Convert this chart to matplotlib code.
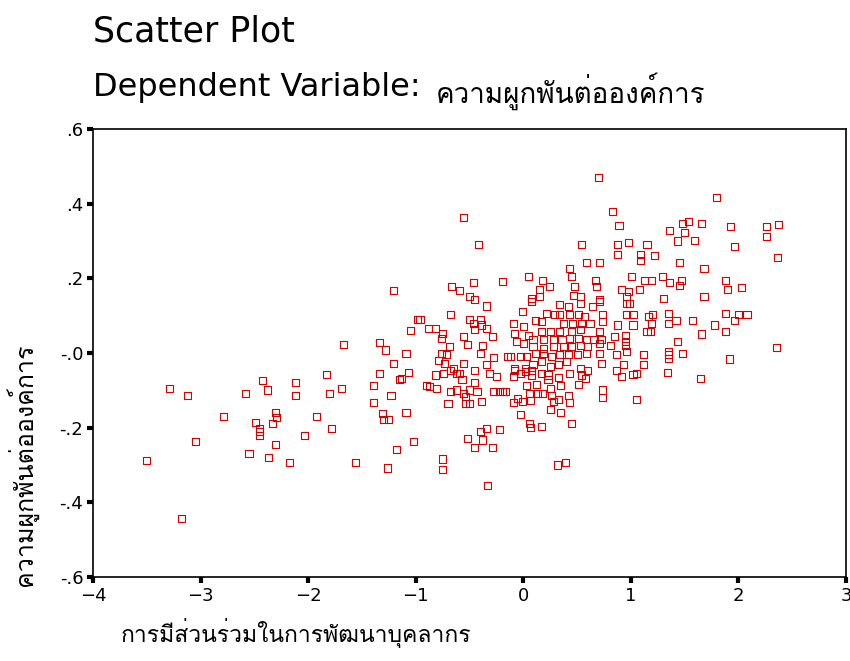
import numpy as np
import matplotlib
matplotlib.use('Agg')
import matplotlib.pyplot as plt
from matplotlib import font_manager
from matplotlib.ft2font import FT2Font

# ค่าที่อ่านจากภาพ (x = การมีส่วนร่วม, y = ความผูกพัน)
points = [
    # กลุ่มซ้าย
    (-3.50, -0.289), (-3.29, -0.094), (-3.12, -0.115), (-3.05, -0.236), (-3.18, -0.443),
    (-2.79, -0.171), (-2.58, -0.109), (-2.42, -0.073), (-2.38, -0.099), (-2.49, -0.187),
    (-2.45, -0.202), (-2.45, -0.211), (-2.45, -0.220), (-2.30, -0.159), (-2.29, -0.173),
    (-2.33, -0.188), (-2.55, -0.268), (-2.37, -0.280), (-2.30, -0.244), (-2.17, -0.293),
    (-2.12, -0.078), (-2.12, -0.115), (-2.03, -0.220), (-1.92, -0.171), (-1.83, -0.057),
    (-1.80, -0.109), (-1.78, -0.202), (-1.69, -0.094), (-1.67, 0.023),
    # กลาง-ซ้าย บน
    (-0.56, 0.364), (-0.42, 0.291), (-1.21, 0.168), (-0.67, 0.177), (-0.59, 0.168),
    (-0.46, 0.189), (-0.19, 0.192), (-0.50, 0.152), (-0.45, 0.143), (-0.34, 0.126),
    (-0.68, 0.104), (-0.98, 0.090), (-0.96, 0.090), (-1.05, 0.060), (-0.88, 0.066),
    (-0.82, 0.066), (-1.34, 0.029), (-1.28, 0.008), (-1.09, -0.001), (-1.21, -0.028),
    (-0.50, 0.090), (-0.40, 0.090), (-0.46, 0.078), (-0.39, 0.075), (-0.34, 0.066),
    (-0.29, 0.045), (-0.45, 0.062), (-0.75, 0.053), (-0.76, 0.039), (-0.56, 0.044),
    (-0.52, 0.024), (-0.38, 0.019), (-0.40, -0.002), (-0.28, -0.012), (-0.69, 0.017),
    (-0.76, -0.001), (-0.71, -0.003), (-0.79, -0.021), (-0.73, -0.028), (-0.56, -0.028),
    (-0.34, -0.032), (-0.15, -0.010),
    # กลาง-ซ้าย ล่าง
    (-1.34, -0.054), (-1.07, -0.053), (-1.13, -0.068), (-1.15, -0.072), (-1.39, -0.088),
    (-1.23, -0.114), (-1.39, -0.133), (-1.09, -0.160), (-1.31, -0.163), (-1.30, -0.177),
    (-1.25, -0.177), (-1.02, -0.237), (-1.18, -0.258), (-1.56, -0.293), (-1.26, -0.308),
    (-0.75, -0.284), (-0.75, -0.313), (-0.33, -0.356), (-0.52, -0.228), (-0.40, -0.210),
    (-0.34, -0.202), (-0.22, -0.205), (-0.38, -0.233), (-0.45, -0.254), (-0.29, -0.254),
    (-0.87, -0.090), (-0.90, -0.087), (-0.81, -0.095), (-0.74, -0.054), (-0.82, -0.059),
    (-0.68, -0.046), (-0.62, -0.054), (-0.65, -0.041), (-0.59, -0.054), (-0.57, -0.072),
    (-0.45, -0.046), (-0.31, -0.054), (-0.25, -0.063), (-0.45, -0.080), (-0.50, -0.099),
    (-0.56, -0.108), (-0.62, -0.099), (-0.68, -0.104), (-0.70, -0.135), (-0.54, -0.135),
    (-0.50, -0.135), (-0.39, -0.130), (-0.28, -0.102), (-0.22, -0.102), (-0.17, -0.102),
    (-0.43, -0.104), (-0.54, -0.117),
    # กลาง บน
    (0.70, 0.470), (0.83, 0.379), (0.89, 0.341), (0.54, 0.291), (0.88, 0.291),
    (0.98, 0.297), (1.15, 0.291), (0.88, 0.264), (1.09, 0.264), (1.09, 0.249),
    (0.59, 0.242), (0.71, 0.242), (0.43, 0.227), (0.45, 0.204), (0.05, 0.204),
    (0.18, 0.194), (0.24, 0.178), (0.15, 0.169), (0.15, 0.151), (0.08, 0.147),
    (0.48, 0.178), (0.47, 0.155), (0.53, 0.151), (0.67, 0.194), (0.68, 0.178),
    (1.01, 0.204), (0.91, 0.169), (0.98, 0.164), (0.96, 0.151), (1.08, 0.169),
    (1.13, 0.194), (0.71, 0.144),
    # กลาง หนาแน่น
    (0.08, 0.137), (0.34, 0.129), (0.42, 0.124), (0.53, 0.133), (0.64, 0.124),
    (0.71, 0.137), (0.96, 0.133), (0.99, 0.133), (-0.01, 0.111), (0.22, 0.106),
    (0.29, 0.102), (0.34, 0.102), (0.43, 0.102), (0.51, 0.102), (0.57, 0.097),
    (0.74, 0.102), (0.96, 0.102), (1.02, 0.102), (1.16, 0.097), (-0.09, 0.080),
    (0.11, 0.087), (0.17, 0.084), (0.37, 0.080), (0.46, 0.080), (0.54, 0.080),
    (0.62, 0.080), (0.74, 0.084), (0.88, 0.075), (1.02, 0.075), (0.00, 0.070),
    (0.17, 0.057), (0.25, 0.057), (0.34, 0.057), (0.45, 0.057), (0.53, 0.062),
    (0.71, 0.057), (0.85, 0.044), (0.95, 0.048), (1.15, 0.057), (-0.08, 0.053),
    (0.05, 0.048), (0.09, 0.035), (0.19, 0.035), (0.28, 0.035), (0.36, 0.035),
    (0.43, 0.039), (0.51, 0.039), (0.59, 0.035), (0.65, 0.035), (0.73, 0.035),
    (0.95, 0.030), (-0.06, 0.030), (0.00, 0.026), (0.09, 0.017), (0.19, 0.013),
    (0.28, 0.017), (0.37, 0.017), (0.45, 0.017), (0.53, 0.021), (0.60, 0.017),
    (0.71, 0.026), (0.81, 0.021), (0.95, 0.021), (-0.12, -0.010), (-0.03, -0.010),
    (0.03, -0.010), (0.11, -0.001), (0.19, -0.001), (0.26, -0.010), (0.34, -0.005),
    (0.42, -0.005), (0.50, -0.005), (0.59, -0.001), (0.71, -0.001), (0.87, -0.005),
    (0.96, 0.003), (1.12, -0.005), (-0.08, -0.041), (0.02, -0.041), (0.09, -0.032),
    (0.17, -0.023), (0.25, -0.037), (0.33, -0.032), (0.40, -0.023), (0.53, -0.041),
    (0.60, -0.046), (0.73, -0.028), (0.87, -0.046), (0.93, -0.032), (1.05, -0.054),
    (-0.09, -0.063), (-0.03, -0.054), (0.08, -0.046), (0.17, -0.054), (0.23, -0.059),
    (0.43, -0.054), (0.54, -0.059),
    # กลาง ล่าง
    (0.91, -0.063), (1.02, -0.057), (0.74, -0.099), (0.74, -0.119), (1.05, -0.124),
    (0.51, -0.084), (0.58, -0.068), (0.33, -0.065), (0.35, -0.088), (0.23, -0.072),
    (0.25, -0.095), (0.26, -0.113), (0.28, -0.130), (0.33, -0.124), (0.42, -0.115),
    (0.43, -0.133), (0.03, -0.088), (0.12, -0.084), (0.06, -0.108), (0.13, -0.108),
    (0.18, -0.108), (0.07, -0.126), (-0.01, -0.130), (-0.09, -0.133), (-0.05, -0.121),
    (-0.19, -0.104), (0.25, -0.151), (0.35, -0.160), (-0.03, -0.164), (0.06, -0.190),
    (0.07, -0.199), (0.17, -0.196), (0.45, -0.190), (0.32, -0.300), (0.39, -0.294),
    (-0.08, -0.046), (0.08, -0.059), (0.02, -0.050),
    # ขวา บน
    (1.80, 0.417), (1.54, 0.352), (1.48, 0.346), (1.66, 0.347), (1.50, 0.322),
    (1.36, 0.327), (1.43, 0.300), (1.59, 0.301), (1.93, 0.340), (2.26, 0.340),
    (2.37, 0.345), (2.26, 0.313), (1.96, 0.285), (2.36, 0.255), (1.22, 0.260),
    (1.45, 0.243), (1.68, 0.227), (1.19, 0.194), (1.29, 0.204), (1.36, 0.188),
    (1.45, 0.182), (1.47, 0.194), (1.88, 0.194), (1.90, 0.169), (2.03, 0.175),
    (1.30, 0.147), (1.68, 0.151),
    # ขวา ล่าง
    (1.20, 0.102), (1.19, 0.080), (1.18, 0.057), (1.35, 0.106), (1.35, 0.080),
    (1.42, 0.087), (1.57, 0.087), (1.78, 0.075), (1.88, 0.106), (1.96, 0.087),
    (2.00, 0.102), (2.08, 0.102), (1.88, 0.057), (1.66, 0.051), (1.43, 0.030),
    (1.35, 0.003), (1.35, -0.005), (1.35, -0.014), (1.48, -0.001), (1.92, -0.016),
    (1.12, -0.030), (1.34, -0.052), (1.65, -0.068), (2.35, 0.014),
]
x_vals = [p[0] for p in points]
y_vals = [p[1] for p in points]

x_ticks = [-4, -3, -2, -1, 0, 1, 2, 3]
y_ticks = [0.6, 0.4, 0.2, 0.0, -0.2, -0.4, -0.6]
y_tick_labels = ['.6', '.4', '.2', '-.0', '-.2', '-.4', '-.6']

title1 = 'Scatter Plot'
title2 = 'Dependent Variable:'
dep_var = 'ความผูกพันต่อองค์การ'
x_label = 'การมีส่วนร่วมในการพัฒนาบุคลากร'


def find_thai_font():
    # หา font ที่มีอักษรไทย
    for f in font_manager.fontManager.ttflist:
        try:
            if 0x0E01 in FT2Font(f.fname).get_charmap():
                return f.name
        except Exception:
            pass
    return None


latin = 'DejaVu Sans'
thai = find_thai_font()
thai_fam = [thai, latin] if thai else [latin]

fig = plt.figure(figsize=(8.5, 6.61), dpi=100)
ax = fig.add_axes([0.1094, 0.1271, 0.8859, 0.6777])

ax.scatter(x_vals, y_vals, marker='s', s=26, facecolors='none',
           edgecolors='#d60000', linewidths=0.8)

ax.set_xlim(-4, 3)
ax.set_ylim(-0.6, 0.6)
ax.set_xticks(x_ticks)
ax.set_yticks(y_ticks)
ax.set_yticklabels(y_tick_labels)
for lab in ax.get_xticklabels() + ax.get_yticklabels():
    lab.set_fontsize(13)
ax.tick_params(direction='out', length=4, width=3, color='black', pad=3)
for sp in ax.spines.values():
    sp.set_linewidth(1.2)

fig.text(0.1094, 0.952, title1, fontsize=25, family=latin, va='center')
fig.text(0.1094, 0.868, title2, fontsize=23, family=latin, va='center')
fig.text(0.513, 0.862, dep_var, fontsize=20, family=thai_fam, va='center')

fig.text(0.142, 0.043, x_label, fontsize=16.5, family=thai_fam, va='center')
fig.text(0.026, 0.297, dep_var, fontsize=18, family=thai_fam, rotation=90,
         ha='center', va='center')

fig.savefig('out.png', dpi=100)
